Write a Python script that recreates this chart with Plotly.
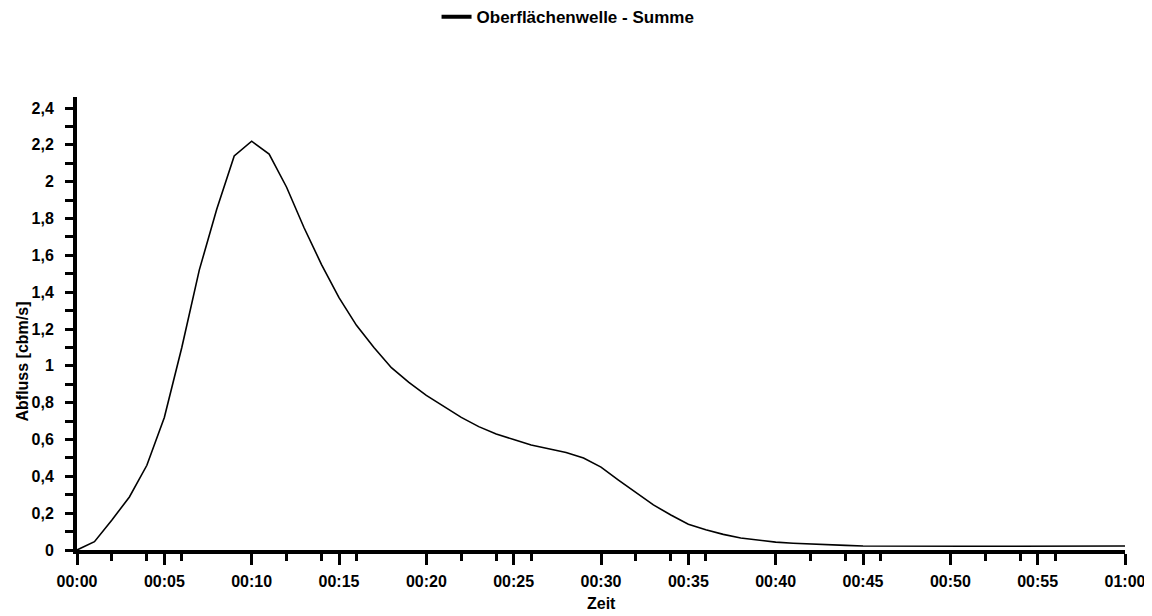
import plotly.graph_objects as go

# Time in minutes
minutes = list(range(0, 61))
abfluss = [0.0, 0.045, 0.163, 0.288, 0.46, 0.72, 1.10, 1.52, 1.85, 2.14,
           2.22, 2.15, 1.97, 1.75, 1.55, 1.37, 1.22, 1.10, 0.99, 0.91,
           0.84, 0.78, 0.72, 0.67, 0.63, 0.60, 0.57, 0.55, 0.53, 0.50,
           0.45, 0.38, 0.31, 0.245, 0.19, 0.14, 0.11, 0.085, 0.065, 0.052,
           0.043, 0.037, 0.032, 0.028, 0.025, 0.022, 0.021, 0.02, 0.02, 0.02,
           0.02, 0.02, 0.02, 0.02, 0.021, 0.021, 0.021, 0.022, 0.022, 0.022,
           0.022]

x_major_vals = list(range(0, 61, 5))
x_major_text = ["00:00", "00:05", "00:10", "00:15", "00:20", "00:25", "00:30",
                "00:35", "00:40", "00:45", "00:50", "00:55", "01:00"]
x_minor_vals = [2, 4, 6, 12, 14, 16, 22, 24, 26, 32, 34, 36, 42, 44, 46, 52, 54, 56]

y_major_vals = [0, 0.2, 0.4, 0.6, 0.8, 1.0, 1.2, 1.4, 1.6, 1.8, 2.0, 2.2, 2.4]
y_major_text = ["0", "0,2", "0,4", "0,6", "0,8", "1", "1,2", "1,4", "1,6", "1,8", "2", "2,2", "2,4"]
y_minor_vals = [0.1, 0.3, 0.5, 0.7, 0.9, 1.1, 1.3, 1.5, 1.7, 1.9, 2.1, 2.3]

series_name = "Oberflächenwelle - Summe"
x_title = "Zeit"
y_title = "Abfluss [cbm/s]"

font_family = "Liberation Sans, Arial, sans-serif"
tfont = dict(family=font_family, size=16, color="black", weight="bold")

fig = go.Figure()
fig.add_trace(go.Scatter(
    x=minutes, y=abfluss, mode="lines", name=series_name,
    line=dict(color="black", width=1.6), showlegend=False,
))
# legend entry with a thicker sample line, as in the original
fig.add_trace(go.Scatter(
    x=[None], y=[None], mode="lines", name=series_name,
    line=dict(color="black", width=4), showlegend=True,
))

fig.update_layout(
    width=1152, height=616,
    paper_bgcolor="white", plot_bgcolor="white",
    margin=dict(l=69, r=35, t=89, b=74, autoexpand=False),
    font=tfont,
    showlegend=True,
    legend=dict(
        orientation="h", xref="container", yref="container",
        x=0.372, xanchor="left", y=0.985, yanchor="middle",
        font=dict(family=font_family, size=17, color="black", weight="bold"),
        bgcolor="rgba(0,0,0,0)",
    ),
    xaxis=dict(
        range=[0, 60], showgrid=False, zeroline=False,
        showline=True, linecolor="black", linewidth=4,
        ticks="outside", ticklen=11, tickwidth=3, tickcolor="black",
        tickmode="array", tickvals=x_major_vals, ticktext=x_major_text,
        tickfont=tfont, ticklabelstandoff=3, tickangle=0,
        minor=dict(tickmode="array", tickvals=x_minor_vals, ticks="outside",
                   ticklen=7, tickwidth=3, tickcolor="black", showgrid=False),
    ),
    yaxis=dict(
        range=[0, 2.46], showgrid=False, zeroline=False,
        showline=True, linecolor="black", linewidth=4,
        ticks="outside", ticklen=8, tickwidth=3, tickcolor="black",
        tickmode="array", tickvals=y_major_vals, ticktext=y_major_text,
        tickfont=tfont, ticklabelstandoff=8,
        minor=dict(tickmode="array", tickvals=y_minor_vals, ticks="outside",
                   ticklen=8, tickwidth=3, tickcolor="black", showgrid=False),
    ),
    annotations=[
        dict(text=x_title, xref="paper", yref="paper", x=0.5, y=-0.118,
             xanchor="center", yanchor="middle", showarrow=False, font=tfont),
        dict(text=y_title, xref="paper", yref="paper", x=-0.052, y=0.415,
             xanchor="center", yanchor="middle", showarrow=False, textangle=-90,
             font=tfont),
    ],
)

fig.write_html("out.html")
